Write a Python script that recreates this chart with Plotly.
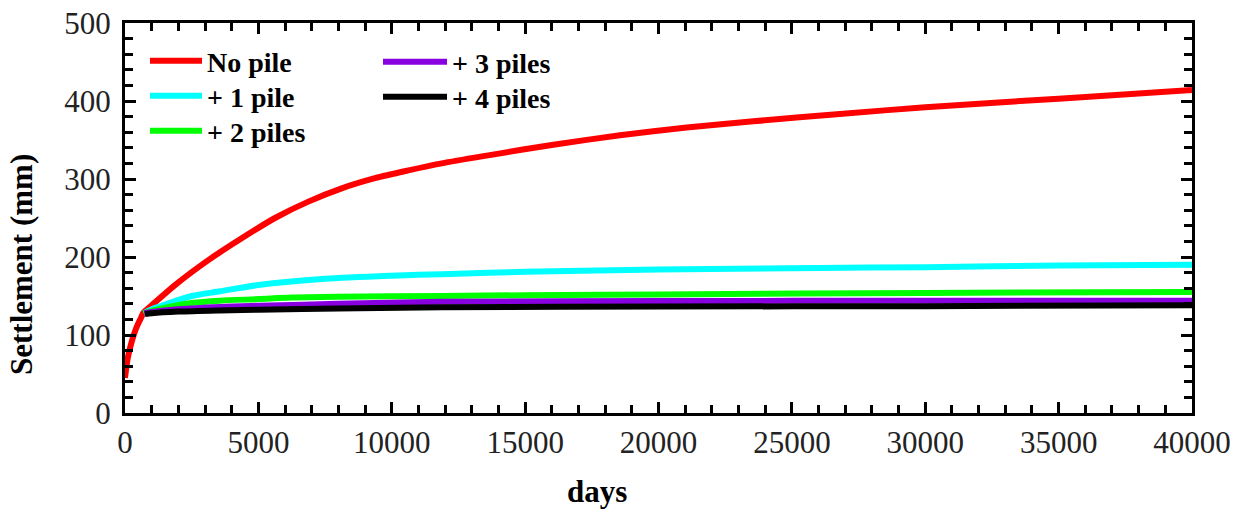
import plotly.graph_objects as go

# ---- data ----
days_none = [0, 100, 200, 300, 400, 500, 600, 700, 1000, 1874, 3124, 4374, 5623, 6873, 8123,
             9372, 10622, 11872, 13559, 16058, 18557, 21057, 23556, 26680, 30000, 35000, 40000]
settle_none = [45, 70, 85, 97, 107, 115, 122, 129, 138, 164, 196, 224, 250, 271, 288,
               301, 311, 320, 330, 344, 356, 366, 374, 383, 392, 403, 414]

days_1 = [700, 1000, 1500, 2500, 3560, 5000, 7500, 10000, 11870, 15000, 20000, 26000, 30000, 35000, 40000]
settle_1 = [128, 133, 139, 150, 156, 164, 172, 176, 178, 181, 184, 186, 187, 189, 190]

days_2 = [700, 1000, 1500, 2500, 3560, 5000, 6250, 8000, 11870, 15000, 20000, 30000, 40000]
settle_2 = [128, 131, 135, 141, 144, 146, 148, 149, 150, 151, 152, 154, 155]

days_3 = [720, 1000, 2000, 3560, 5000, 8000, 11870, 20000, 30000, 40000]
settle_3 = [128, 129.5, 133, 136, 137.5, 140, 142.5, 143.5, 144, 144]

days_4 = [750, 1000, 2000, 3560, 5000, 8000, 11870, 20000, 30000, 40000]
settle_4 = [127, 128, 130, 131.5, 132.5, 134, 135.5, 136.5, 137, 138]

names = ["No pile", "+ 1 pile", "+ 2 piles", "+ 3 piles", "+ 4 piles"]
colors = ["#ff0000", "#00ffff", "#00ff00", "#8800e0", "#000000"]
legend_ids = ["legend", "legend2", "legend3", "legend4", "legend5"]

series = [(days_none, settle_none), (days_1, settle_1), (days_2, settle_2),
          (days_3, settle_3), (days_4, settle_4)]

fig = go.Figure()
for (x, y), nm, c, lg in zip(series, names, colors, legend_ids):
    fig.add_trace(go.Scatter(x=x, y=y, mode="lines", name=nm, legend=lg, showlegend=True,
                             line=dict(color=c, width=6, shape="spline", smoothing=0.8)))

tickfont = dict(family="Liberation Serif", size=31, color="#222222")
legfont = dict(family="Liberation Serif", size=28, color="black", weight="bold")

axis_common = dict(showline=True, linecolor="black", linewidth=3, mirror="ticks",
                   ticks="inside", tickcolor="black", tickwidth=3, ticklen=11,
                   showgrid=False, zeroline=False, tickfont=tickfont, automargin=False)

fig.update_xaxes(range=[0, 40000], dtick=5000, tick0=0, tickformat="d", ticklabelstandoff=0,
                 minor=dict(dtick=1000, ticks="inside", ticklen=8, tickwidth=3, tickcolor="black"),
                 **axis_common)
fig.update_yaxes(range=[0, 500], dtick=100, tick0=0, ticklabelstandoff=5,
                 minor=dict(dtick=20, ticks="inside", ticklen=8, tickwidth=3, tickcolor="black"),
                 **axis_common)

def px_x(p):
    return (p - 125) / 1067.0

def px_y(p):
    return (413 - p) / 390.0

leg_common = dict(xanchor="left", yanchor="middle", bgcolor="rgba(0,0,0,0)", font=legfont,
                  visible=True)
col1 = dict(x=px_x(145), itemwidth=52, **leg_common)
col2 = dict(x=px_x(378), itemwidth=64, **leg_common)

fig.update_layout(
    width=1242, height=509,
    showlegend=True,
    margin=dict(l=125, r=50, t=23, b=96),
    paper_bgcolor="white", plot_bgcolor="white",
    legend=dict(y=px_y(61), **col1),
    legend2=dict(y=px_y(96), **col1),
    legend3=dict(y=px_y(131), **col1),
    legend4=dict(y=px_y(62), **col2),
    legend5=dict(y=px_y(97), **col2),
    annotations=[
        dict(text="<b>Settlement (mm)</b>", xref="paper", yref="paper",
             x=px_x(21), y=px_y(265), textangle=-90, showarrow=False,
             font=dict(family="Liberation Serif", size=31, color="black"),
             xanchor="center", yanchor="middle"),
        dict(text="<b>days</b>", xref="paper", yref="paper",
             x=px_x(597), y=px_y(491), showarrow=False,
             font=dict(family="Liberation Serif", size=31, color="black"),
             xanchor="center", yanchor="middle", borderpad=0),
    ],
)

fig.write_html("out.html")
